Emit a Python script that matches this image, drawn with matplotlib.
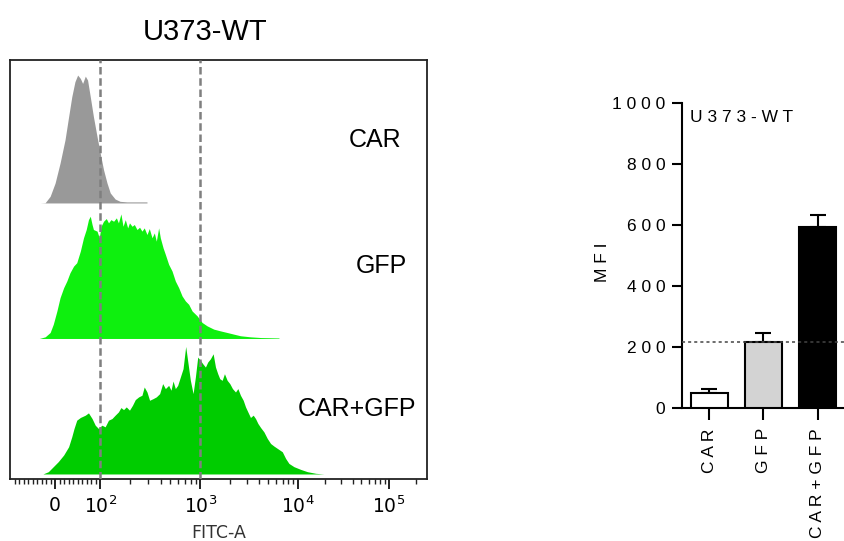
import numpy as np
import matplotlib
matplotlib.use("Agg")
import matplotlib.pyplot as plt
from matplotlib.ticker import FixedLocator

plt.rcParams['font.family'] = ['Liberation Sans', 'DejaVu Sans']

# ---- flow histograms (FITC-A value, normalised count) ----
car_x = [-33, -22, -11, 0, 11, 22, 30, 37, 44, 50, 56, 61, 67, 72, 78, 85, 93, 100,
         108, 117, 126, 141, 158, 185, 293]
car_y = [0, 0.002, 0.049, 0.147, 0.294, 0.466, 0.637, 0.784, 0.895, 0.944, 0.919, 0.882,
         0.936, 0.907, 0.784, 0.637, 0.490, 0.368, 0.245, 0.147, 0.074, 0.029, 0.012,
         0.008, 0.008]

gfp_x = [-35, -22, -11, -4, 4, 11, 19, 26, 33, 41, 48, 56, 63, 69, 74, 78, 82, 85, 93, 98,
         102, 108, 115, 121, 128, 136, 145, 152, 161, 169, 178, 188, 196, 208, 219, 233,
         247, 261, 275, 293, 309, 329, 347, 363, 383, 398, 424, 447, 482, 521, 562, 607,
         656, 708, 764, 826, 927, 1041, 1172, 1371, 1607, 1885, 2204, 2582, 3273, 4159, 6427]
gfp_y = [0, 0.012, 0.044, 0.105, 0.203, 0.301, 0.375, 0.424, 0.485, 0.534, 0.559, 0.645,
         0.743, 0.804, 0.877, 0.902, 0.841, 0.804, 0.792, 0.743, 0.828, 0.865, 0.885, 0.853,
         0.877, 0.865, 0.890, 0.853, 0.919, 0.828, 0.877, 0.816, 0.853, 0.828, 0.841, 0.804,
         0.821, 0.792, 0.816, 0.767, 0.811, 0.743, 0.779, 0.718, 0.816, 0.743, 0.669, 0.620,
         0.547, 0.498, 0.424, 0.375, 0.314, 0.277, 0.252, 0.203, 0.167, 0.118, 0.093, 0.069,
         0.056, 0.044, 0.032, 0.020, 0.012, 0.007, 0.004]

both_x = [-27, -15, -4, 7, 19, 30, 37, 42, 48, 56, 67, 74, 82, 89, 96, 104, 112, 121, 131,
          141, 152, 161, 171, 182, 196, 210, 224, 242, 261, 275, 293, 311, 337, 363, 392,
          420, 447, 482, 509, 533, 562, 593, 631, 671, 713, 753, 794, 845, 891, 940, 1000,
          1056, 1126, 1189, 1267, 1352, 1429, 1507, 1581, 1674, 1767, 1885, 2005, 2137, 2295,
          2427, 2582, 2756, 2911, 3076, 3273, 3491, 3690, 3900, 4159, 4498, 4875, 5272, 5704,
          6180, 6955, 7520, 8134, 9160, 10790, 12790, 15780, 19450]
both_y = [0, 0.017, 0.054, 0.091, 0.140, 0.201, 0.275, 0.336, 0.397, 0.417, 0.434, 0.451,
          0.409, 0.360, 0.336, 0.360, 0.348, 0.397, 0.409, 0.434, 0.458, 0.490, 0.475, 0.495,
          0.471, 0.507, 0.549, 0.569, 0.581, 0.642, 0.605, 0.544, 0.556, 0.569, 0.593, 0.667,
          0.630, 0.654, 0.618, 0.686, 0.630, 0.654, 0.716, 0.777, 0.941, 0.814, 0.691, 0.593,
          0.716, 0.863, 0.838, 0.814, 0.789, 0.826, 0.850, 0.887, 0.789, 0.740, 0.703, 0.691,
          0.740, 0.691, 0.667, 0.630, 0.605, 0.630, 0.581, 0.544, 0.495, 0.458, 0.417, 0.434,
          0.409, 0.373, 0.343, 0.311, 0.262, 0.225, 0.206, 0.189, 0.164, 0.115, 0.078, 0.054,
          0.034, 0.017, 0.005, 0]

hist_names = ['CAR', 'GFP', 'CAR+GFP']
hist_colors = ['#999999', '#0ef00e', '#00cc00']
gates = [100, 1000]

# ---- MFI bar chart ----
groups = ['C A R', 'G F P', 'C A R + G F P']
mfi = [48, 215, 594]
mfi_err = [13, 30, 38]
bar_colors = ['white', '#d3d3d3', 'black']
mfi_ref = 215

# biexponential-like display axis: linear below 100, log above
DEC = [2, 3, 4, 5, 6]
POS = [100, 200, 297, 388, 479]


def fwd(x):
    x = np.asarray(x, float)
    lg = np.interp(np.log10(np.maximum(x, 100)), DEC, POS)
    return np.where(x < 100, 55 + 0.45 * x, lg)


def inv(u):
    u = np.asarray(u, float)
    lg = 10 ** np.interp(np.maximum(u, 100), POS, DEC)
    return np.where(u < 100, (u - 55) / 0.45, lg)


fig = plt.figure(figsize=(8.45, 5.41), dpi=100)

ax1 = fig.add_axes([10 / 845, 62 / 541, 417 / 845, 419 / 541])
ax1.set_xscale('function', functions=(fwd, inv))
ax1.set_xlim(-100, 262144)
ax1.set_ylim(-0.037, 3.055)

hists = [(car_x, car_y), (gfp_x, gfp_y), (both_x, both_y)]
for i, ((hx, hy), name, col) in enumerate(zip(hists, hist_names, hist_colors)):
    base = 2 - i
    ax1.fill_between(hx, base, base + np.array(hy), color=col, lw=0, zorder=2)

for g in gates:
    ax1.axvline(g, color='#7f7f7f', lw=1.8, ls=(0, (3.0, 1.5)), zorder=3)

ax1.text(0.875, 0.809, 'CAR', transform=ax1.transAxes, ha='center', va='center', fontsize=18)
ax1.text(0.890, 0.508, 'GFP', transform=ax1.transAxes, ha='center', va='center', fontsize=18)
ax1.text(0.832, 0.167, 'CAR+GFP', transform=ax1.transAxes, ha='center', va='center', fontsize=18)
ax1.text(0.468, 1.067, 'U373-WT', transform=ax1.transAxes, ha='center', va='center', fontsize=21)

ax1.set_xticks([0, 100, 1000, 10000, 100000])
ax1.set_xticklabels(['0', r'$10^2$', r'$10^3$', r'$10^4$', r'$10^5$'],
                    family='DejaVu Sans', fontsize=13.5)
minor = [v for v in range(-90, 0, 10)] + [v for v in range(10, 100, 10)]
minor += [k * 10 ** d for d in (2, 3, 4) for k in range(2, 10)] + [200000]
ax1.xaxis.set_minor_locator(FixedLocator(minor))
ax1.tick_params(axis='x', which='major', length=7, width=1.4, pad=5, color='#222222')
ax1.tick_params(axis='x', which='minor', length=3.5, width=1.0, color='#222222')
ax1.set_yticks([])
ax1.set_xlabel('FITC-A', family='DejaVu Sans', fontsize=12.5, labelpad=5, color='#333333')
for s in ax1.spines.values():
    s.set_linewidth(1.3)
    s.set_color('#222222')

# ---- right panel ----
ax2 = fig.add_axes([682 / 845, 133 / 541, 163 / 845, 305 / 541])
xs = np.arange(len(groups))
ax2.bar(xs, mfi, width=0.68, color=bar_colors, edgecolor='black', linewidth=1.5, zorder=3)
ax2.errorbar(xs, mfi, yerr=[[0] * len(mfi), mfi_err], fmt='none', ecolor='black',
             elinewidth=1.5, capsize=6, capthick=1.5, zorder=2)
ax2.axhline(mfi_ref, color='#444444', lw=1.1, ls=(0, (2, 2)), zorder=4)
ax2.set_xlim(-0.5, 2.5)
ax2.set_ylim(0, 1000)
ax2.set_yticks([0, 200, 400, 600, 800, 1000])
ax2.set_yticklabels(['0', '2 0 0', '4 0 0', '6 0 0', '8 0 0', '1 0 0 0'], fontsize=12.5)
ax2.set_xticks(xs)
ax2.set_xticklabels(groups, rotation=90, fontsize=12.5)
ax2.tick_params(axis='y', length=7, width=1.5, pad=5)
ax2.tick_params(axis='x', length=8.5, width=1.5, pad=6)
ax2.set_ylabel('M F I', fontsize=12.5)
ax2.yaxis.set_label_coords(-0.44, 0.479)
ax2.text(-0.36, 952, 'U 3 7 3 - W T', ha='left', va='center', fontsize=12.5)
for side in ('top', 'right'):
    ax2.spines[side].set_visible(False)
for side in ('left', 'bottom'):
    ax2.spines[side].set_linewidth(1.5)
ax2.patch.set_visible(False)

fig.savefig('out.png', dpi=100)
